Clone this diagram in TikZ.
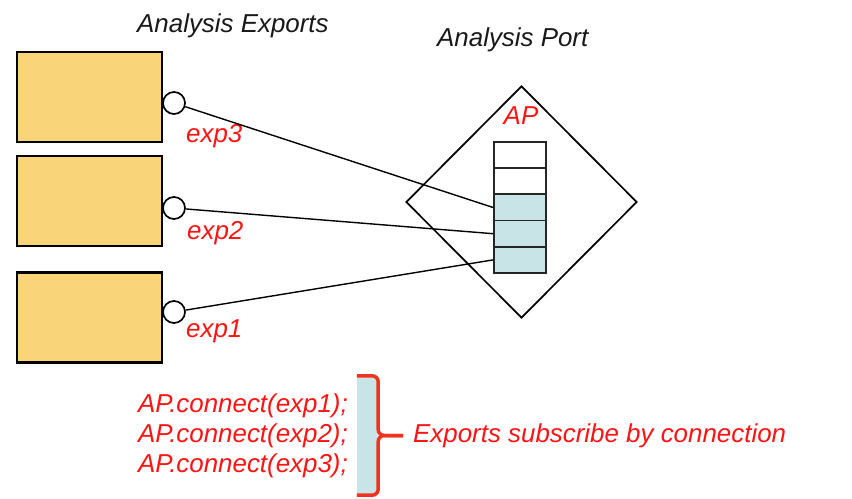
\documentclass[tikz,border=0pt]{standalone}
\usepackage{fontspec}
\setmainfont{Liberation Sans}
\usetikzlibrary{shapes.geometric}
\definecolor{boxfill}{RGB}{250,212,120}
\definecolor{cellblue}{RGB}{200,228,230}
\definecolor{labelred}{RGB}{255,20,20}
\definecolor{bracketred}{RGB}{240,50,30}
\begin{document}
\begin{tikzpicture}[x=1bp,y=-1bp,
        exportbox/.style={draw,line width=2.8bp,fill=boxfill,minimum width=145bp,minimum height=90bp,inner sep=0pt},
        expport/.style={circle,draw,line width=1.7bp,fill=white,minimum size=22bp,inner sep=0pt},
        apcell/.style={draw=black!85,line width=1.8bp,minimum width=52bp,minimum height=26.2bp,inner sep=0pt},
        redtxt/.style={text=labelred,font=\fontsize{26}{30}\selectfont\itshape,inner sep=0pt},
        blacktxt/.style={text=black!90,font=\fontsize{26}{30}\selectfont\itshape,inner sep=0pt}]
        \useasboundingbox (0,0) rectangle (852,499);

        \node[blacktxt,anchor=base west] (exportstitle) at (137,33) {Analysis Exports};
        \node[blacktxt,anchor=base west] (porttitle) at (437,47) {Analysis Port};

        \node[exportbox] (box3) at (89.5,97) {};
        \node[exportbox] (box2) at (89.5,201) {};
        \node[exportbox] (box1) at (89.5,317.5) {};

        \node[expport] (port3) at (174,103) {};
        \node[expport] (port2) at (174,208) {};
        \node[expport] (port1) at (174,312) {};

        \node[redtxt,anchor=base west] (exp3) at (186,143) {exp3};
        \node[redtxt,anchor=base west] (exp2) at (187,240) {exp2};
        \node[redtxt,anchor=base west] (exp1) at (186,338) {exp1};

        \node[diamond,draw,line width=1.7bp,minimum width=231bp,minimum height=232bp,inner sep=0pt] (ap) at (521.5,202) {};
        \node[redtxt,anchor=base] (aplabel) at (521,125) {AP};

        \foreach \i/\c in {1/white,2/white,3/cellblue,4/cellblue,5/cellblue}
            \node[apcell,fill=\c] (cell\i) at (520,{142+26.2*(\i-0.5)}) {};

        \draw[line width=1.4bp] (port3) -- (cell3.west);
        \draw[line width=1.4bp] (port2) -- (cell4.west);
        \draw[line width=1.4bp] (port1) -- (cell5.west);

        \node[fill=cellblue,minimum width=21bp,minimum height=119bp,inner sep=0pt] (codebg) at (367.5,435.5) {};
        \foreach \k/\y in {1/412,2/442,3/472}
            \node[redtxt,anchor=base east] (code\k) at (348,\y) {AP.connect(exp\k);};
        \node[redtxt,anchor=base west] (note) at (413,442) {Exports subscribe by connection};

        \coordinate (tip) at (403,435.5);
        \draw[bracketred,line width=3.5bp,rounded corners=6bp] (codebg.north west) -| (codebg.east) -- (tip);
        \draw[bracketred,line width=3.5bp,rounded corners=6bp] (codebg.south west) -| (codebg.east) -- (tip);
    \end{tikzpicture}
\end{document}
